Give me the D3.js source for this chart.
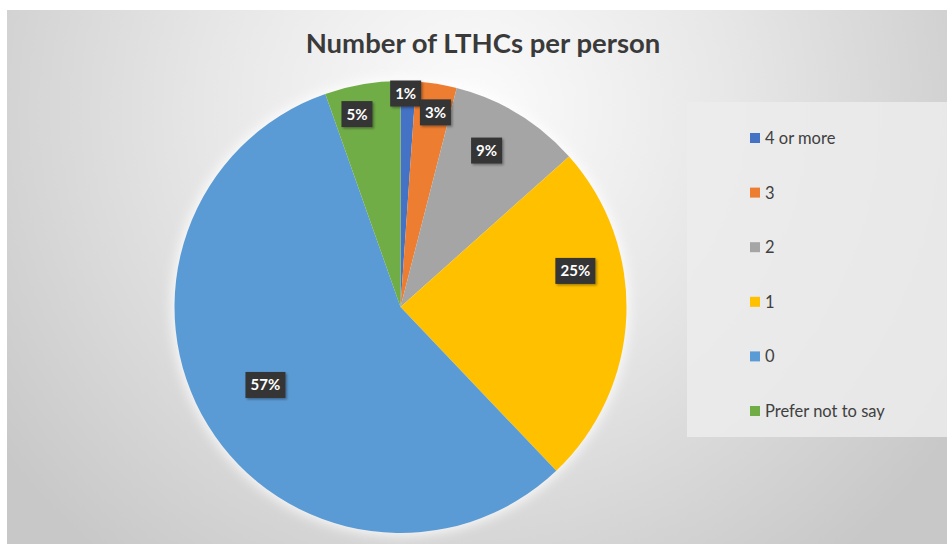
<!DOCTYPE html>
<html>
<head>
<meta charset="utf-8">
<script src="https://cdn.jsdelivr.net/npm/d3@7"></script>
<style>
  html, body { margin: 0; padding: 0; background: #fff; }
  svg { display: block; font-family: Lato, "Open Sans", sans-serif; }
</style>
</head>
<body>
<svg id="chart" width="947" height="544"></svg>
<script>
/** chart data */
const categories = ["4 or more", "3", "2", "1", "0", "Prefer not to say"];
const shares = [1.1, 2.9, 9.4, 24.5, 56.7, 5.4];
const sliceColors = ["#4472C4", "#ED7D31", "#A5A5A5", "#FFC000", "#5B9BD5", "#70AD47"];

/** label placement: radius fraction and angle nudge (deg) */
const labelRadius = [0.945, 0.875, 0.79, 0.79, 0.69, 0.875];
const labelNudge = [-0.6, 1, -2.5, -14, 1.5, -3];

const svg = d3.select("#chart");
const width = 947, height = 544;

/** background */
const defs = svg.append("defs");
const bg = defs.append("radialGradient")
  .attr("id", "bg")
  .attr("gradientUnits", "userSpaceOnUse")
  .attr("cx", 470).attr("cy", 110).attr("r", 580);
bg.append("stop").attr("offset", "0%").attr("stop-color", "#fcfcfc");
bg.append("stop").attr("offset", "45%").attr("stop-color", "#e7e7e7");
bg.append("stop").attr("offset", "100%").attr("stop-color", "#c8c8c8");

const shadow = defs.append("filter").attr("id", "shadow")
  .attr("x", "-30%").attr("y", "-30%").attr("width", "160%").attr("height", "160%");
shadow.append("feDropShadow")
  .attr("dx", 1.5).attr("dy", 1.5).attr("stdDeviation", 1.2)
  .attr("flood-color", "#000").attr("flood-opacity", 0.35);

const glow = defs.append("filter").attr("id", "glow")
  .attr("x", "-20%").attr("y", "-20%").attr("width", "140%").attr("height", "140%");
glow.append("feGaussianBlur").attr("stdDeviation", 6);

svg.append("rect")
  .attr("x", 7).attr("y", 10)
  .attr("width", width - 7).attr("height", height - 10)
  .attr("fill", "url(#bg)");

/** title */
svg.append("text")
  .text("Number of LTHCs per person")
  .attr("x", 483).attr("y", 53)
  .attr("text-anchor", "middle")
  .attr("font-size", 27.5)
  .attr("font-weight", "bold")
  .attr("fill", "#3a3a3a");

/** pie */
const cx = 400.5, cy = 307, radius = 226;
const pie = d3.pie().sort(null).value((d) => d)(shares);
const arc = d3.arc().innerRadius(0).outerRadius(radius);
const color = d3.scaleOrdinal().domain(categories).range(sliceColors);
const total = d3.sum(shares);

const g = svg.append("g").attr("transform", `translate(${cx},${cy})`);

/** soft halo round the pie */
g.append("circle")
  .attr("r", radius + 3)
  .attr("fill", "#ffffff")
  .attr("opacity", 0.8)
  .attr("filter", "url(#glow)");

g.selectAll("path.slice")
  .data(pie)
  .join("path")
  .attr("class", "slice")
  .attr("d", arc)
  .attr("fill", (d, i) => color(categories[i]));

/** data labels */
const labels = g.selectAll("g.label")
  .data(pie)
  .join("g")
  .attr("class", "label")
  .attr("transform", (d, i) => {
    const a = (d.startAngle + d.endAngle) / 2 + (labelNudge[i] * Math.PI) / 180;
    const r = radius * labelRadius[i];
    return `translate(${r * Math.sin(a)},${-r * Math.cos(a)})`;
  });

labels.each(function (d) {
  const lab = d3.select(this);
  const txt = `${Math.round((d.value / total) * 100)}%`;
  const w = txt.length > 2 ? 40 : 31;
  lab.append("rect")
    .attr("x", -w / 2).attr("y", -13)
    .attr("width", w).attr("height", 26)
    .attr("fill", "#363636")
    .attr("filter", "url(#shadow)");
  lab.append("text")
    .text(txt)
    .attr("text-anchor", "middle")
    .attr("dy", "0.36em")
    .attr("font-size", 15)
    .attr("font-weight", "bold")
    .attr("fill", "#ffffff");
});

/** legend */
svg.append("rect")
  .attr("x", 687).attr("y", 102)
  .attr("width", 260).attr("height", 335)
  .attr("fill", "#ececec")
  .attr("opacity", 0.85);

const legendY = d3.scalePoint()
  .domain(categories)
  .range([138, 411]);

const legend = svg.selectAll("g.legend")
  .data(categories)
  .join("g")
  .attr("class", "legend")
  .attr("transform", (d) => `translate(750,${legendY(d)})`);

legend.append("rect")
  .attr("x", 0).attr("y", -5)
  .attr("width", 10).attr("height", 10)
  .attr("fill", (d) => color(d));

legend.append("text")
  .text((d) => d)
  .attr("x", 15)
  .attr("dy", "0.36em")
  .attr("font-size", 16.5)
  .attr("fill", "#404040");
</script>
</body>
</html>
